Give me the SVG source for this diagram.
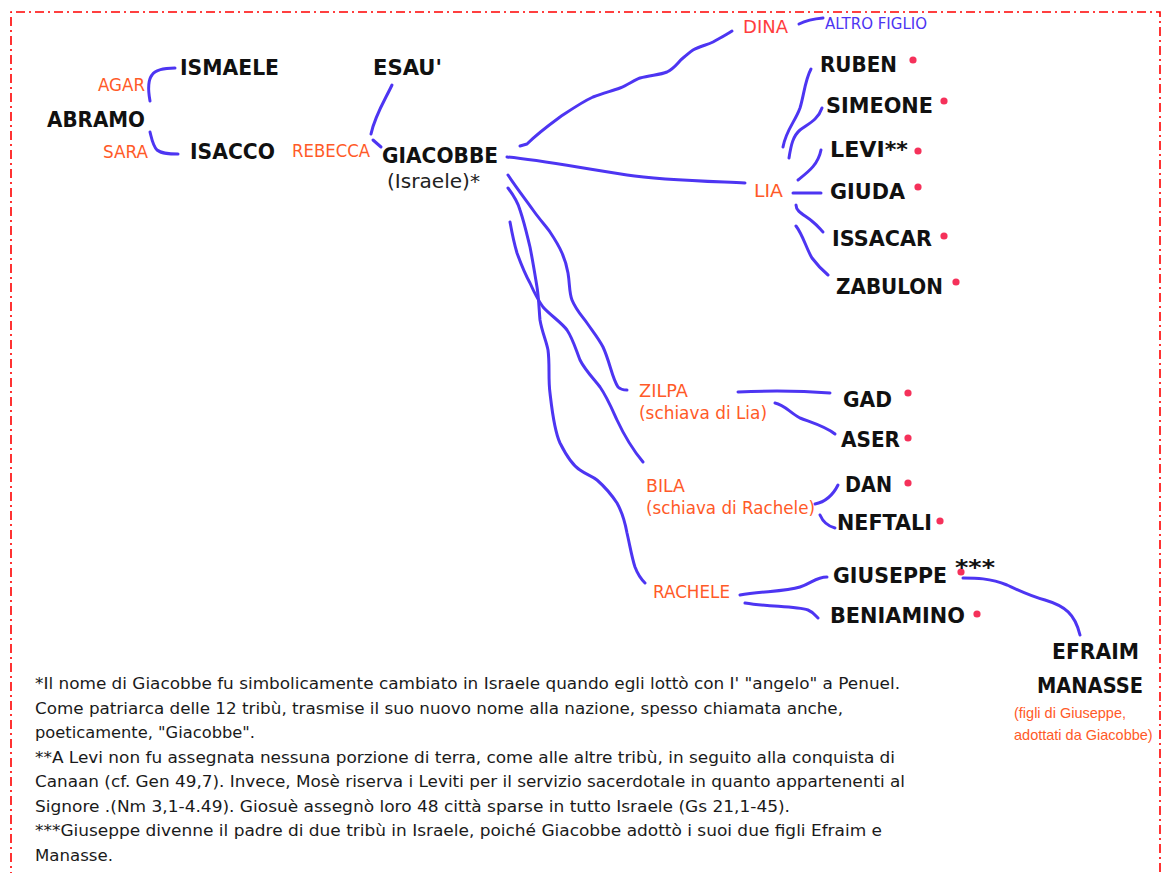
<svg xmlns="http://www.w3.org/2000/svg" width="1162" height="873" viewBox="0 0 1162 873">
<style>
.nm{font-family:"DejaVu Sans",Verdana,sans-serif;font-weight:bold;font-size:20.5px;fill:#111}
.sp{font-family:"DejaVu Sans",Verdana,sans-serif;font-size:17px;fill:#ff5a28}
.sp2{font-family:"Liberation Sans",Arial,sans-serif;font-size:14.5px;fill:#ff5a28}
.dina{font-family:"DejaVu Sans",Verdana,sans-serif;font-size:17px;fill:#ff3d3d}
.alt{font-family:"DejaVu Sans",Verdana,sans-serif;font-size:15px;fill:#4d35f2}
.isr{font-family:"DejaVu Sans",Verdana,sans-serif;font-size:20px;fill:#222}
.fn{font-family:"DejaVu Sans",Verdana,sans-serif;font-size:16px;fill:#1a1a1a}
.ln{fill:none;stroke:#4d35f2;stroke-width:3;stroke-linecap:round;stroke-linejoin:round}
.dot{fill:#f5315a}
</style>
<rect x="0" y="0" width="1162" height="873" fill="#ffffff"/>
<path d="M11,900 L11,12 L1160,12 L1160,900" fill="none" stroke="#ff0000" stroke-width="1.6" stroke-dasharray="9 4 2 4"/>

<g id="connectors">
<path class="ln" d="M150,101 C148,90 148,80 152,75 C156,69 165,68 175,68"/>
<path class="ln" d="M150,132 C152,140 153,146 157,150 C162,154 170,154 178,154"/>
<path class="ln" d="M392,85 C385,100 375,115 371,134"/>
<path class="ln" d="M373,140 L381,147"/>
<path class="ln" d="M520,146 L527,144 C533,138 545,128 560,117 C572,109 582,102 593,97 C603,93 612,91 620,88 C628,85 634,80 640,78 C650,75 660,75 667,72 C675,68 678,62 683,58 C688,54 690,52 693,50 C700,46 707,45 713,42 C720,38 726,35 732,31"/>
<path class="ln" d="M799,24 C805,21 812,19 823,18"/>
<path class="ln" d="M507,157 C540,160 580,168 627,175 C660,180 700,181 745,183"/>
<path class="ln" d="M811,69 C805,80 804,95 800,108 C795,122 786,130 783,147"/>
<path class="ln" d="M822,108 C818,120 808,124 800,130 C793,136 791,145 789,158"/>
<path class="ln" d="M821,150 C818,165 808,172 798,180"/>
<path class="ln" d="M793,193 L821,193"/>
<path class="ln" d="M796,205 C796,212 805,215 813,222 C818,226 820,229 823,232"/>
<path class="ln" d="M796,226 C803,235 806,248 812,258 C818,266 822,270 828,275"/>
<path class="ln" d="M508,175 C518,190 526,200 533,210 C540,220 546,226 550,232 C556,241 559,246 562,253 C566,262 567,267 568,273 C570,285 569,292 572,300 C576,310 582,316 587,323 C594,333 599,339 603,347 C610,362 612,378 618,387 C621,390 624,390 627,390"/>
<path class="ln" d="M508,188 C514,196 518,203 520,210 C525,225 527,235 530,247 C533,262 535,275 537,287 C539,300 539,310 540,320 C542,332 546,340 548,350 C550,365 548,378 550,393 C552,410 554,430 560,443 C566,455 572,465 580,470 C587,475 592,476 597,480 C605,487 611,494 617,503 C622,512 625,522 627,533 C630,546 632,558 635,567 C638,575 641,579 645,583"/>
<path class="ln" d="M510,222 C512,233 514,243 517,253 C521,264 525,274 530,283 C534,292 538,300 543,307 C550,315 561,322 567,330 C573,339 576,350 580,360 C585,370 593,378 600,387 C607,397 612,409 617,420 C624,435 633,450 643,462"/>
<path class="ln" d="M738,392 C760,391 790,390 830,393"/>
<path class="ln" d="M775,403 C785,405 790,413 800,418 C810,422 825,426 835,434"/>
<path class="ln" d="M815,504 C825,502 833,495 838,485"/>
<path class="ln" d="M820,515 C823,522 827,526 835,528"/>
<path class="ln" d="M740,595 C760,591 785,592 800,587 C812,583 816,577 827,577"/>
<path class="ln" d="M745,603 C770,607 795,606 808,610 C813,612 815,615 818,618"/>
<path class="ln" d="M963,578 C975,578 990,578 1007,585 C1020,591 1030,596 1045,600 C1065,606 1075,614 1080,635"/>
</g>

<g id="abramo"><text class="nm" x="47" y="127" textLength="98" lengthAdjust="spacingAndGlyphs">ABRAMO</text></g>
<g id="agar"><text class="sp" x="98" y="91" textLength="47" lengthAdjust="spacingAndGlyphs">AGAR</text></g>
<g id="sara"><text class="sp" x="103" y="158" textLength="45" lengthAdjust="spacingAndGlyphs">SARA</text></g>
<g id="ismaele"><text class="nm" x="180" y="75" textLength="99" lengthAdjust="spacingAndGlyphs">ISMAELE</text></g>
<g id="isacco"><text class="nm" x="190" y="159" textLength="85" lengthAdjust="spacingAndGlyphs">ISACCO</text></g>
<g id="rebecca"><text class="sp" x="292" y="157" textLength="78" lengthAdjust="spacingAndGlyphs">REBECCA</text></g>
<g id="esau"><text class="nm" x="373" y="75" textLength="69" lengthAdjust="spacingAndGlyphs">ESAU'</text></g>
<g id="giacobbe">
<text class="nm" x="382" y="163" textLength="116" lengthAdjust="spacingAndGlyphs">GIACOBBE</text>
<text class="isr" x="387" y="188" textLength="93" lengthAdjust="spacingAndGlyphs">(Israele)*</text>
</g>
<g id="dina"><text class="dina" x="743" y="33" textLength="45" lengthAdjust="spacingAndGlyphs">DINA</text></g>
<g id="altro-figlio"><text class="alt" x="825" y="29" textLength="102" lengthAdjust="spacingAndGlyphs">ALTRO FIGLIO</text></g>
<g id="lia"><text class="sp" x="754" y="197" textLength="29" lengthAdjust="spacingAndGlyphs">LIA</text></g>
<g id="ruben"><text class="nm" x="820" y="72" textLength="77" lengthAdjust="spacingAndGlyphs">RUBEN</text><circle class="dot" cx="913" cy="60" r="3.6"/></g>
<g id="simeone"><text class="nm" x="826" y="113" textLength="107" lengthAdjust="spacingAndGlyphs">SIMEONE</text><circle class="dot" cx="944" cy="101" r="3.6"/></g>
<g id="levi"><text class="nm" x="830" y="157" textLength="78" lengthAdjust="spacingAndGlyphs">LEVI**</text><circle class="dot" cx="918" cy="151" r="3.6"/></g>
<g id="giuda"><text class="nm" x="830" y="199" textLength="75" lengthAdjust="spacingAndGlyphs">GIUDA</text><circle class="dot" cx="918" cy="187" r="3.6"/></g>
<g id="issacar"><text class="nm" x="832" y="246" textLength="100" lengthAdjust="spacingAndGlyphs">ISSACAR</text><circle class="dot" cx="944" cy="236" r="3.6"/></g>
<g id="zabulon"><text class="nm" x="836" y="294" textLength="107" lengthAdjust="spacingAndGlyphs">ZABULON</text><circle class="dot" cx="956" cy="282" r="3.6"/></g>
<g id="zilpa">
<text class="sp" x="639" y="397" textLength="49" lengthAdjust="spacingAndGlyphs">ZILPA</text>
<text class="sp" x="639" y="419" textLength="128" lengthAdjust="spacingAndGlyphs">(schiava di Lia)</text>
</g>
<g id="gad"><text class="nm" x="843" y="407" textLength="49" lengthAdjust="spacingAndGlyphs">GAD</text><circle class="dot" cx="908" cy="393" r="3.6"/></g>
<g id="aser"><text class="nm" x="841" y="447" textLength="59" lengthAdjust="spacingAndGlyphs">ASER</text><circle class="dot" cx="908" cy="438" r="3.6"/></g>
<g id="bila">
<text class="sp" x="646" y="492" textLength="39" lengthAdjust="spacingAndGlyphs">BILA</text>
<text class="sp" x="646" y="514" textLength="169" lengthAdjust="spacingAndGlyphs">(schiava di Rachele)</text>
</g>
<g id="dan"><text class="nm" x="845" y="492" textLength="47" lengthAdjust="spacingAndGlyphs">DAN</text><circle class="dot" cx="908" cy="483" r="3.6"/></g>
<g id="neftali"><text class="nm" x="837" y="530" textLength="95" lengthAdjust="spacingAndGlyphs">NEFTALI</text><circle class="dot" cx="940" cy="521" r="3.6"/></g>
<g id="rachele"><text class="sp" x="653" y="598" textLength="77" lengthAdjust="spacingAndGlyphs">RACHELE</text></g>
<g id="giuseppe">
<text class="nm" x="833" y="583" textLength="114" lengthAdjust="spacingAndGlyphs">GIUSEPPE</text>
<circle class="dot" cx="961" cy="572" r="3.6"/>
<text class="nm" x="955" y="575" textLength="40" lengthAdjust="spacingAndGlyphs">***</text>
</g>
<g id="beniamino"><text class="nm" x="830" y="623" textLength="135" lengthAdjust="spacingAndGlyphs">BENIAMINO</text><circle class="dot" cx="977" cy="614" r="3.6"/></g>
<g id="efraim-manasse">
<text class="nm" x="1052" y="659" textLength="87" lengthAdjust="spacingAndGlyphs">EFRAIM</text>
<text class="nm" x="1037" y="693" textLength="106" lengthAdjust="spacingAndGlyphs">MANASSE</text>
<text class="sp2" x="1014" y="718">(figli di Giuseppe,</text>
<text class="sp2" x="1014" y="740">adottati da Giacobbe)</text>
</g>

<g id="footnotes">
<text class="fn" x="35" y="689" textLength="865" lengthAdjust="spacingAndGlyphs">*Il nome di Giacobbe fu simbolicamente cambiato in Israele quando egli lottò con I' "angelo" a Penuel.</text>
<text class="fn" x="35" y="714" textLength="808" lengthAdjust="spacingAndGlyphs">Come patriarca delle 12 tribù, trasmise il suo nuovo nome alla nazione, spesso chiamata anche,</text>
<text class="fn" x="35" y="738" textLength="220" lengthAdjust="spacingAndGlyphs">poeticamente, "Giacobbe".</text>
<text class="fn" x="35" y="763" textLength="860" lengthAdjust="spacingAndGlyphs">**A Levi non fu assegnata nessuna porzione di terra, come alle altre tribù, in seguito alla conquista di</text>
<text class="fn" x="35" y="787" textLength="870" lengthAdjust="spacingAndGlyphs">Canaan (cf. Gen 49,7). Invece, Mosè riserva i Leviti per il servizio sacerdotale in quanto appartenenti al</text>
<text class="fn" x="35" y="812" textLength="755" lengthAdjust="spacingAndGlyphs">Signore .(Nm 3,1-4.49). Giosuè assegnò loro 48 città sparse in tutto Israele (Gs 21,1-45).</text>
<text class="fn" x="35" y="836" textLength="847" lengthAdjust="spacingAndGlyphs">***Giuseppe divenne il padre di due tribù in Israele, poiché Giacobbe adottò i suoi due figli Efraim e</text>
<text class="fn" x="35" y="861" textLength="78" lengthAdjust="spacingAndGlyphs">Manasse.</text>
</g>
</svg>
